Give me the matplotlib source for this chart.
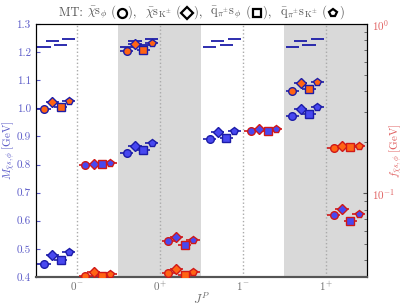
import numpy as np
import matplotlib
matplotlib.use('Agg')
import matplotlib.pyplot as plt
from matplotlib.lines import Line2D
from matplotlib.offsetbox import TextArea, DrawingArea, HPacker, AnchoredOffsetbox

plt.rcParams['font.family'] = ['cmr10', 'DejaVu Sans']
plt.rcParams['mathtext.fontset'] = 'cm'
plt.rcParams['axes.formatter.use_mathtext'] = True

# channels and operators
channels = [r'$0^{-}$', r'$0^{+}$', r'$1^{-}$', r'$1^{+}$']
markers = ['o', 'D', 's', 'p']
msizes = [5.5, 5.5, 5.5, 5.5]
mass_off = [-0.4, -0.3, -0.2, -0.1]
dec_off = [0.1, 0.2, 0.3, 0.4]
op_labels = [r'$\bar{\chi}\mathrm{s}_{\phi}$', r'$\bar{\chi}\mathrm{s}_{\mathrm{K}^{\pm}}$',
             r'$\bar{\mathrm{q}}_{\pi^{\pm}}\mathrm{s}_{\phi}$',
             r'$\bar{\mathrm{q}}_{\pi^{\pm}}\mathrm{s}_{\mathrm{K}^{\pm}}$']

# masses [GeV] (left axis)
mass_ground = [[0.447, 0.478, 0.459, 0.490],
               [0.842, 0.866, 0.852, 0.876],
               [0.890, 0.914, 0.896, 0.920],
               [0.974, 0.998, 0.981, 1.004]]
mass_excited = [[0.999, 1.022, 1.005, 1.026],
                [1.204, 1.228, 1.207, 1.231],
                None,
                [1.063, 1.089, 1.068, 1.093]]
thresholds = [1.218, 1.238, 1.227, 1.246]

# decay constants [GeV] (right axis, log)
f_ground = [[0.147, 0.149, 0.148, 0.151],
            [0.0520, 0.0554, 0.0497, 0.0527],
            [0.233, 0.238, 0.233, 0.238],
            [0.0741, 0.0804, 0.0689, 0.0751]]
f_excited = [[0.0324, 0.0342, 0.0323, 0.0333],
             [0.0338, 0.0354, 0.0330, 0.0340],
             None,
             [0.186, 0.189, 0.187, 0.189]]

blue_fill = '#4848f0'
orange_fill = '#ff6414'
navy = '#1c1ca8'
red = '#d01818'
left_col = '#5a5ac8'
right_col = '#e06060'
grey_txt = '#707070'
hw = 0.08

fig = plt.figure(figsize=(4.1, 3.08), dpi=100)
ax = fig.add_axes([0.087, 0.101, 0.808, 0.821])
ax2 = ax.twinx()

for k in [1, 3]:
    ax.axvspan(k - 0.5, k + 0.5, color='#d9d9d9', lw=0, zorder=0)
for k in range(4):
    ax.axvline(k, color='#aaaaaa', ls=':', lw=1.0, zorder=1)

for k in range(4):
    for i in range(4):
        x = k + mass_off[i]
        ax.hlines(thresholds[i], x - hw, x + hw, color=navy, lw=1.3, zorder=2)
        for vals, fc in [(mass_ground[k], blue_fill), (mass_excited[k], orange_fill)]:
            if vals is None:
                continue
            ax.hlines(vals[i], x - hw, x + hw, color=navy, lw=1.2, zorder=3)
            ax.plot(x, vals[i], marker=markers[i], ms=msizes[i], mfc=fc,
                    mec=navy, mew=1.0, zorder=4)
        xd = k + dec_off[i]
        for vals, fc in [(f_ground[k], blue_fill), (f_excited[k], orange_fill)]:
            if vals is None:
                continue
            ax2.hlines(vals[i], xd - hw, xd + hw, color=red, lw=1.2, zorder=3)
            ax2.plot(xd, vals[i], marker=markers[i], ms=msizes[i], mfc=fc,
                     mec=red, mew=1.0, zorder=4)

ax.set_xlim(-0.5, 3.5)
ax.set_ylim(0.4, 1.3)
ax.set_yticks(np.arange(0.4, 1.31, 0.1))
ax.set_yticklabels(['%.1f' % v for v in np.arange(0.4, 1.31, 0.1)])
ax.set_xticks(range(4))
ax.set_xticklabels(channels)
ax.tick_params(axis='x', length=0, colors=grey_txt, labelsize=8, pad=2)
ax.tick_params(axis='y', direction='in', length=3, colors=left_col, labelsize=8)
ax.set_xlabel(r'$J^{P}$', color=grey_txt, fontsize=9, labelpad=-1)
ax.set_ylabel(r'$M_{\bar{\chi}s,\phi}\;[\mathrm{GeV}]$', color=left_col, fontsize=8, labelpad=0)

ax2.set_yscale('log')
ax2.set_ylim(0.032, 1.0)
ax2.tick_params(axis='y', which='both', direction='in', colors='#555555', labelcolor=right_col, labelsize=8)
ax2.tick_params(axis='y', which='major', length=3)
ax2.tick_params(axis='y', which='minor', length=2)
ax2.set_ylabel(r'$f_{\bar{\chi}s,\phi}\;[\mathrm{GeV}]$', color=right_col, fontsize=8)
ax2.yaxis.set_label_coords(1.06, 0.5)

for a in (ax, ax2):
    a.spines['bottom'].set_color('#555555')
    a.spines['bottom'].set_linewidth(1.5)

# title with marker symbols
tp = dict(color='#555555', fontsize=9)
parts = [TextArea('MT: ', textprops=tp)]
for i in range(4):
    da = DrawingArea(9, 7, 0, 0)
    da.add_artist(Line2D([4.5], [3.5], marker=markers[i], ms=6 if i else 6.5, mfc='white',
                         mec='black', mew=1.6))
    parts += [TextArea(op_labels[i], textprops=tp), TextArea(' (', textprops=tp), da,
              TextArea('),  ' if i < 3 else ')', textprops=tp)]
box = HPacker(children=parts, align='center', pad=0, sep=0)
anch = AnchoredOffsetbox(loc='lower center', child=box, pad=0, borderpad=0.25, frameon=False,
                         bbox_to_anchor=(0.5, 1.0), bbox_transform=ax.transAxes)
ax.add_artist(anch)

fig.savefig('out.png', dpi=100)
